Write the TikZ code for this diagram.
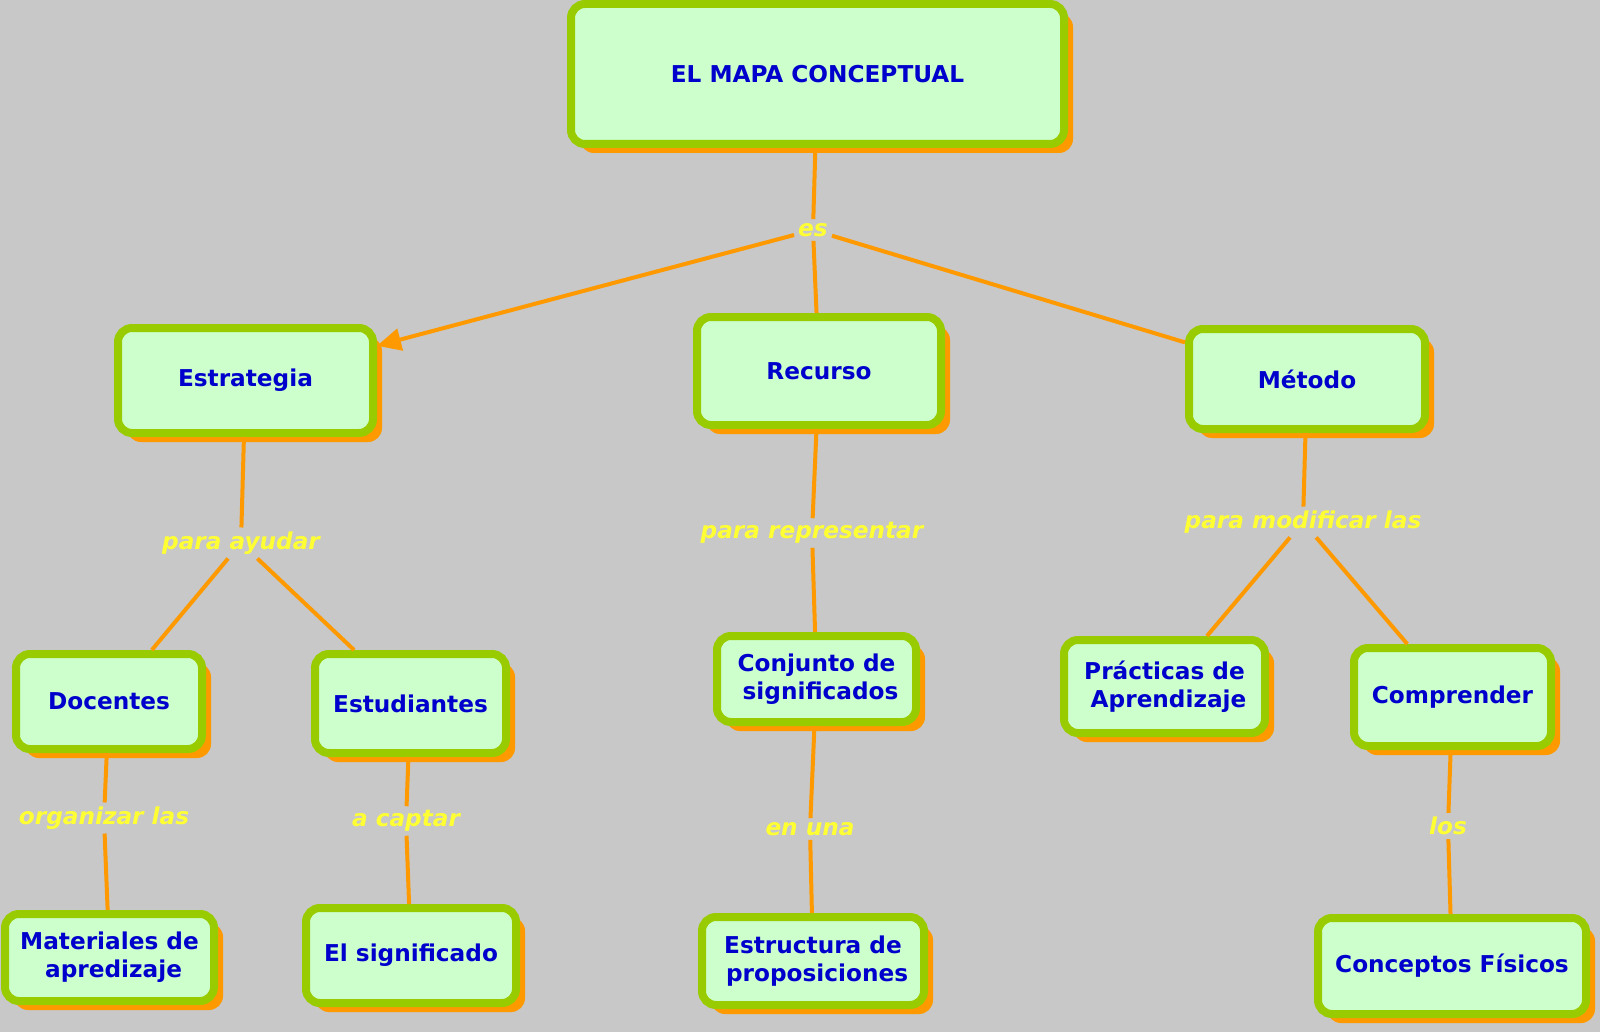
\documentclass[tikz,border=0pt]{standalone}
\usepackage{fontspec}
\setmainfont{DejaVu Sans}
\usetikzlibrary{arrows.meta,shadows}
\definecolor{bg}{HTML}{C8C8C8}
\definecolor{boxfill}{HTML}{CCFFCC}
\definecolor{boxline}{HTML}{99CC00}
\definecolor{shor}{HTML}{FF9900}
\definecolor{txtblue}{HTML}{0000CC}
\definecolor{linkyel}{HTML}{FFFF33}
\newcommand{\lsp}{\hspace*{0.35em}}
\begin{document}
\begin{tikzpicture}[x=1pt,y=-1pt,
  concept/.style={draw=boxline, line width=8pt, fill=boxfill, rounded corners=14pt,
    drop shadow={shadow xshift=9pt, shadow yshift=-9pt, fill=shor, opacity=1},
    text=txtblue, font=\fontsize{23.2}{28}\selectfont\bfseries, align=center, inner sep=0pt},
  linklab/.style={text=linkyel, font=\fontsize{23.2}{27}\selectfont\bfseries\itshape, inner sep=4pt},
  conn/.style={draw=shor, line width=4pt}]
\fill[bg] (0,0) rectangle (1600,1032);
\useasboundingbox (0,0) rectangle (1600,1032);

\node[concept, minimum width=493pt, minimum height=140pt] (top) at (817.5,74) {EL MAPA CONCEPTUAL};
\node[concept, minimum width=255pt, minimum height=105pt] (estr) at (245.5,380.5) {Estrategia};
\node[concept, minimum width=244pt, minimum height=108pt] (recu) at (819,371) {Recurso};
\node[concept, minimum width=236pt, minimum height=100pt] (meto) at (1307,379) {Método};
\node[concept, minimum width=186pt, minimum height=95pt] (doce) at (109,701.5) {Docentes};
\node[concept, minimum width=191pt, minimum height=99pt] (estu) at (410.5,703.5) {Estudiantes};
\node[concept, minimum width=199pt, minimum height=86pt] (conj) at (816.5,679) {Conjunto de\\\lsp significados};
\node[concept, minimum width=201pt, minimum height=93pt] (prac) at (1164.5,686.5) {Prácticas de\\\lsp Aprendizaje};
\node[concept, minimum width=197pt, minimum height=98pt] (comp) at (1452.5,697) {Comprender};
\node[concept, minimum width=209pt, minimum height=87pt] (mate) at (109.5,957.5) {Materiales de\\\lsp apredizaje};
\node[concept, minimum width=210pt, minimum height=95pt] (sign) at (411,955.5) {El significado};
\node[concept, minimum width=222pt, minimum height=88pt] (estc) at (813,961) {Estructura de\\\lsp proposiciones};
\node[concept, minimum width=268pt, minimum height=96pt] (conc) at (1452,966) {Conceptos Físicos};

\node[linklab] (les) at (813,230) {es};
\node[linklab] (lay) at (241,543) {para ayudar};
\node[linklab] (lre) at (812,533) {para representar};
\node[linklab] (lmo) at (1303,522) {para modificar las};
\node[linklab] (lor) at (104,818) {organizar las};
\node[linklab] (lca) at (406,821) {a captar};
\node[linklab] (lun) at (810,829) {en una};
\node[linklab] (llo) at (1448,826) {los};

\draw[conn] (top) -- (les);
\draw[conn, -{Triangle[length=24pt,width=22pt]}] (les) -- (estr);
\draw[conn] (les) -- (recu);
\draw[conn] (les) -- (meto);
\draw[conn] (estr) -- (lay);
\draw[conn] (lay) -- (doce);
\draw[conn] (lay) -- (estu);
\draw[conn] (recu) -- (lre);
\draw[conn] (lre) -- (conj);
\draw[conn] (meto) -- (lmo);
\draw[conn] (lmo) -- (prac);
\draw[conn] (lmo) -- (comp);
\draw[conn] (doce) -- (lor);
\draw[conn] (lor) -- (mate);
\draw[conn] (estu) -- (lca);
\draw[conn] (lca) -- (sign);
\draw[conn] (conj) -- (lun);
\draw[conn] (lun) -- (estc);
\draw[conn] (comp) -- (llo);
\draw[conn] (llo) -- (conc);
\end{tikzpicture}
\end{document}
